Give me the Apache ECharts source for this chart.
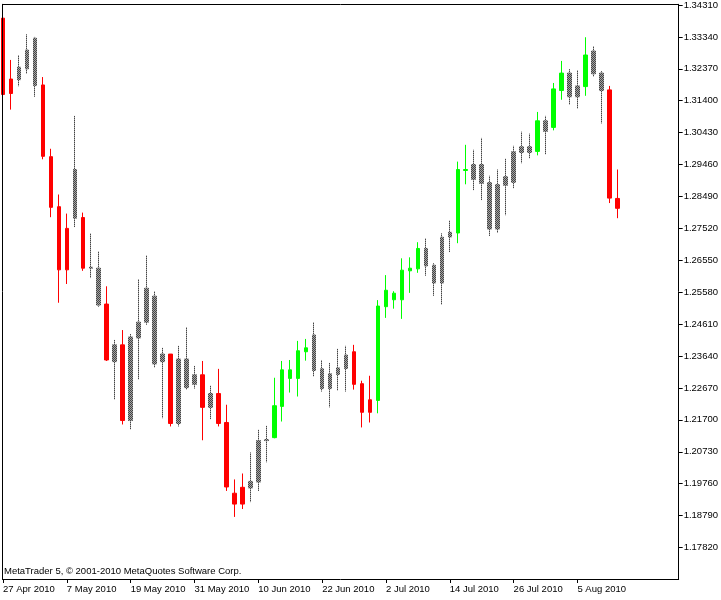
<!DOCTYPE html>
<html>
<head>
<meta charset="utf-8">
<script src="https://cdn.jsdelivr.net/npm/echarts@6/dist/echarts.min.js"></script>
<style>
html,body{margin:0;padding:0;background:#fff;}
#chart{width:721px;height:600px;}
</style>
</head>
<body>
<div id="chart"></div>
<script>
// ---- data (EURUSD daily, 27 Apr - 12 Aug 2010) ----
const dates = [
 '2010-04-27','2010-04-28','2010-04-29','2010-04-30',
 '2010-05-03','2010-05-04','2010-05-05','2010-05-06','2010-05-07',
 '2010-05-10','2010-05-11','2010-05-12','2010-05-13','2010-05-14',
 '2010-05-17','2010-05-18','2010-05-19','2010-05-20','2010-05-21',
 '2010-05-24','2010-05-25','2010-05-26','2010-05-27','2010-05-28',
 '2010-05-31','2010-06-01','2010-06-02','2010-06-03','2010-06-04',
 '2010-06-07','2010-06-08','2010-06-09','2010-06-10','2010-06-11',
 '2010-06-14','2010-06-15','2010-06-16','2010-06-17','2010-06-18',
 '2010-06-21','2010-06-22','2010-06-23','2010-06-24','2010-06-25',
 '2010-06-28','2010-06-29','2010-06-30','2010-07-01','2010-07-02',
 '2010-07-05','2010-07-06','2010-07-07','2010-07-08','2010-07-09',
 '2010-07-12','2010-07-13','2010-07-14','2010-07-15','2010-07-16',
 '2010-07-19','2010-07-20','2010-07-21','2010-07-22','2010-07-23',
 '2010-07-26','2010-07-27','2010-07-28','2010-07-29','2010-07-30',
 '2010-08-02','2010-08-03','2010-08-04','2010-08-05','2010-08-06',
 '2010-08-09','2010-08-10','2010-08-11','2010-08-12'
];
const opens = [
 1.3391,1.3162,1.3204,1.3237,1.3330,1.3188,1.2970,1.2818,1.2626,1.2931,
 1.2785,1.2631,1.2631,1.2522,1.2347,1.2398,1.2168,1.2419,1.2467,1.2546,
 1.2347,1.2370,1.2159,1.2355,1.2278,1.2307,1.2208,1.2250,1.2162,1.1947,
 1.1914,1.1963,1.1981,1.2107,1.2116,1.2211,1.2322,1.2296,1.2377,1.2428,
 1.2325,1.2265,1.2308,1.2326,1.2377,1.2280,1.2193,1.2229,1.2514,1.2555,
 1.2535,1.2623,1.2629,1.2691,1.2640,1.2586,1.2726,1.2738,1.2931,1.2946,
 1.2889,1.2891,1.2750,1.2883,1.2892,1.2983,1.3000,1.2986,1.3079,1.3059,
 1.3171,1.3224,1.3152,1.3183,1.3291,1.3224,1.3173,1.2843
];
const closes = [
 1.3159,1.3206,1.3242,1.3294,1.3186,1.2971,1.2816,1.2626,1.2752,1.2783,
 1.2631,1.2634,1.2519,1.2352,1.2398,1.2168,1.2422,1.2467,1.2570,1.2340,
 1.2370,1.2159,1.2355,1.2268,1.2307,1.2208,1.2250,1.2159,1.1966,1.1914,
 1.1965,1.1983,1.2107,1.2110,1.2213,1.2322,1.2296,1.2380,1.2389,1.2320,
 1.2265,1.2310,1.2328,1.2367,1.2278,1.2193,1.2231,1.2516,1.2564,1.2535,
 1.2625,1.2631,1.2691,1.2638,1.2586,1.2725,1.2740,1.2931,1.2928,1.2901,
 1.2946,1.2750,1.2885,1.2909,1.2985,1.3000,1.2983,1.3079,1.3047,1.3176,
 1.3224,1.3152,1.3185,1.3279,1.3222,1.3171,1.2844,1.2813
];
const lows = [
 1.3152,1.3113,1.3184,1.3222,1.3152,1.2962,1.2786,1.2526,1.2583,1.2756,
 1.2623,1.2601,1.2514,1.2349,1.2232,1.2156,1.2141,1.2293,1.2459,1.2329,
 1.2175,1.2150,1.2150,1.2262,1.2265,1.2108,1.2172,1.2150,1.1954,1.1875,
 1.1899,1.1920,1.1954,1.2041,1.2114,1.2165,1.2253,1.2241,1.2350,1.2302,
 1.2256,1.2208,1.2259,1.2256,1.2262,1.2147,1.2162,1.2190,1.2480,1.2508,
 1.2477,1.2556,1.2617,1.2608,1.2547,1.2520,1.2680,1.2707,1.2886,1.2868,
 1.2838,1.2729,1.2738,1.2792,1.2874,1.2950,1.2965,1.2974,1.2977,1.3050,
 1.3143,1.3128,1.3116,1.3155,1.3213,1.3071,1.2829,1.2783
];
const highs = [
 1.3397,1.3264,1.3279,1.3342,1.3334,1.3212,1.2994,1.2855,1.2797,1.3094,
 1.2800,1.2737,1.2682,1.2576,1.2413,1.2443,1.2431,1.2598,1.2670,1.2561,
 1.2389,1.2370,1.2395,1.2452,1.2334,1.2349,1.2274,1.2325,1.2216,1.1989,
 1.2007,1.2071,1.2140,1.2152,1.2298,1.2349,1.2352,1.2410,1.2416,1.2467,
 1.2352,1.2343,1.2386,1.2395,1.2398,1.2289,1.2304,1.2534,1.2610,1.2561,
 1.2661,1.2664,1.2710,1.2722,1.2646,1.2737,1.2776,1.2955,1.3006,1.2991,
 1.3027,1.2912,1.2931,1.2964,1.3003,1.3046,1.3040,1.3106,1.3094,1.3194,
 1.3261,1.3236,1.3233,1.3333,1.3306,1.3230,1.3185,1.2931
];
// indicator state of each bar: D = down (red), U = up (green), N = neutral (grey)
const state = [
 'D','D','N','N','N','D','D','D','D','N',
 'D','N','N','D','N','D','N','N','N','N',
 'N','D','N','N','N','D','N','D','D','D',
 'D','N','N','N','U','U','U','U','U','N',
 'N','N','N','N','D','D','D','U','U','U',
 'U','U','U','N','N','N','N','U','U','N',
 'N','N','N','N','N','N','N','U','N','U',
 'U','N','N','U','N','N','D','D'
];
const yTicks = [1.17820,1.18790,1.19760,1.20730,1.21700,1.22670,1.23640,1.24610,1.25580,
 1.26550,1.27520,1.28490,1.29460,1.30430,1.31400,1.32370,1.33340,1.34310];
const xTickDates = ['2010-04-27','2010-05-07','2010-05-19','2010-05-31','2010-06-10',
 '2010-06-22','2010-07-02','2010-07-14','2010-07-26','2010-08-05'];
const copyright = 'MetaTrader 5, \u00a9 2001-2010 MetaQuotes Software Corp.';

// ---- rendering ----
const months = ['Jan','Feb','Mar','Apr','May','Jun','Jul','Aug','Sep','Oct','Nov','Dec'];
function fmtDate(s){ const p = s.split('-'); return (+p[2]) + ' ' + months[+p[1]-1] + ' ' + p[0]; }
const xTickIdx = xTickDates.map(d => dates.indexOf(d));

// checkered grey like the reference
const cv = document.createElement('canvas');
cv.width = 2; cv.height = 2;
const cx = cv.getContext('2d');
cx.fillStyle = '#a4a4a4'; cx.fillRect(0,0,2,2);
cx.fillStyle = '#444444'; cx.fillRect(0,0,1,1); cx.fillRect(1,1,1,1);
const greyPat = {image: cv, repeat: 'repeat'};
const palette = {D: '#ff0000', U: '#00ff00', N: greyPat};

const candleData = dates.map((d, i) => {
  const c = palette[state[i]];
  return {
    value: [i, opens[i], closes[i], lows[i], highs[i]],
    itemStyle: {color: c, color0: c, borderColor: c, borderColor0: c, borderWidth: 1}
  };
});

const font = 'Liberation Sans';
const chart = echarts.init(document.getElementById('chart'), null, {renderer: 'canvas'});
const xMin = -0.0625, xMax = 84.6875;
const yMin = 1.16863, yMax = 1.34331;
chart.setOption({
  animation: false,
  backgroundColor: '#ffffff',
  grid: {left: 2, right: 41, top: 2, bottom: 21, show: false},
  xAxis: [{
    type: 'value', min: xMin, max: xMax, position: 'bottom',
    splitLine: {show: false},
    axisLine: {show: true, onZero: false, lineStyle: {color: '#000', width: 1}},
    axisTick: {show: true, length: 4, customValues: xTickIdx, lineStyle: {color: '#000'}},
    axisLabel: {
      customValues: xTickIdx, align: 'left', margin: 5,
      color: '#000', fontFamily: font, fontSize: 9.5,
      formatter: v => { const i = Math.round(v); return dates[i] ? fmtDate(dates[i]) : ''; }
    }
  }, {
    type: 'value', min: xMin, max: xMax, position: 'top',
    splitLine: {show: false}, axisTick: {show: false}, axisLabel: {show: false},
    axisLine: {show: true, onZero: false, lineStyle: {color: '#000', width: 1}}
  }],
  yAxis: [{
    type: 'value', min: yMin, max: yMax, position: 'right', z: 5,
    splitLine: {show: false},
    axisLine: {show: true, onZero: false, lineStyle: {color: '#000', width: 1}},
    axisTick: {show: true, length: 4, customValues: yTicks, lineStyle: {color: '#000'}},
    axisLabel: {
      customValues: yTicks, margin: 5, color: '#000', fontFamily: font, fontSize: 9.5,
      formatter: v => v.toFixed(5)
    }
  }, {
    type: 'value', min: yMin, max: yMax, position: 'left', z: 5,
    splitLine: {show: false}, axisTick: {show: false}, axisLabel: {show: false},
    axisLine: {show: true, onZero: false, lineStyle: {color: '#000', width: 1}}
  }],
  graphic: [{
    type: 'text', left: 4, top: 566, silent: true,
    style: {text: copyright, fill: '#000', fontFamily: font, fontSize: 9.5}
  }],
  series: [{
    type: 'candlestick',
    xAxisIndex: 0, yAxisIndex: 0,
    barWidth: 4,
    clip: true,
    emphasis: {disabled: true},
    silent: true,
    data: candleData
  }]
});
</script>
</body>
</html>
